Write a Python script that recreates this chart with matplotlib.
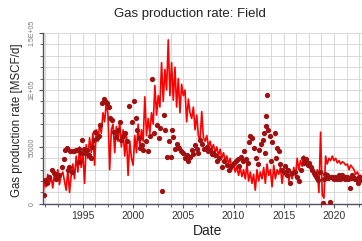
import numpy as np
import matplotlib
matplotlib.use("Agg")
import matplotlib.pyplot as plt
from matplotlib.ticker import MultipleLocator, FixedLocator

plt.rcParams['font.family'] = ['Liberation Sans', 'DejaVu Sans']

# simulated gas rate, one value every two months from 1991.0 (thousand MSCF/d)
sim_start = 1991.0
sim_rate_k = [
    5, 20, 15, 26, 18, 24,
    14, 27, 20, 30, 17, 25,
    28, 20, 12, 30, 10, 25,
    35, 22, 42, 28, 50, 32,
    45, 18, 52, 40, 58, 45,
    62, 34, 65, 55, 70, 62,
    80, 72, 90, 78, 30, 65,
    70, 45, 68, 55, 72, 50,
    65, 42, 60, 25, 55, 40,
    34, 60, 45, 70, 50, 65,
    55, 94, 60, 75, 62, 80,
    70, 104, 78, 95, 85, 124,
    90, 118, 100, 144, 95, 124,
    91, 120, 85, 110, 80, 105,
    95, 100, 72, 92, 80, 75,
    85, 65, 78, 60, 55, 81,
    58, 55, 60, 50, 55, 48,
    52, 45, 50, 42, 48, 40,
    45, 38, 42, 35, 40, 30,
    36, 28, 33, 25, 32, 24,
    30, 22, 35, 20, 28, 18,
    26, 12, 30, 20, 28, 22,
    32, 18, 35, 25, 30, 15,
    34, 22, 30, 26, 32, 18,
    30, 25, 33, 20, 28, 22,
    32, 24, 40, 30, 38, 33,
    42, 35, 40, 32, 36, 30,
    28, 22, 30, 10, 63, 8,
    5, 42, 35, 40, 38, 42,
    38, 40, 36, 38, 35, 37,
    36, 34, 35, 30, 34, 32,
    30, 26, 28, 24, 25,
]

# observed points (decimal year, thousand MSCF/d)
obs_year = [
    1991.1, 1991.2, 1991.4, 1991.6, 1991.9, 1992.1, 1992.3, 1992.4, 1992.6, 1992.9,
    1993.1, 1993.2, 1993.4, 1993.5, 1993.6, 1993.7, 1993.9, 1994.0, 1994.1, 1994.3,
    1994.4, 1994.6, 1994.6, 1994.8, 1994.9, 1995.1, 1995.2, 1995.4, 1995.6, 1995.8,
    1995.9, 1996.1, 1996.2, 1996.4, 1996.6, 1996.7, 1996.9, 1997.1, 1997.2, 1997.4,
    1997.6, 1997.7, 1997.9, 1998.1, 1998.3, 1998.5, 1998.7, 1998.8, 1999.0, 1999.2,
    1999.4, 1999.6, 1999.9, 2000.1, 2000.3, 2000.4, 2000.6, 2000.7, 2000.9, 2001.0,
    2001.3, 2001.5, 2001.7, 2001.9, 2002.1, 2002.4, 2002.6, 2002.7, 2002.9, 2003.1,
    2003.2, 2003.4, 2003.6, 2003.8, 2003.9, 2004.0, 2004.2, 2004.4, 2004.5, 2004.6,
    2004.8, 2005.0, 2005.2, 2005.4, 2005.5, 2005.7, 2005.9, 2006.0, 2006.2, 2006.4,
    2006.5, 2006.7, 2006.9, 2007.1, 2007.4, 2007.5, 2007.7, 2007.9, 2008.0, 2008.2,
    2008.4, 2008.6, 2008.9, 2009.1, 2009.3, 2009.5, 2009.7, 2010.0, 2010.2, 2010.4,
    2010.5, 2010.7, 2010.9, 2011.0, 2011.2, 2011.4, 2011.5, 2011.6, 2011.8, 2012.0,
    2012.2, 2012.4, 2012.5, 2012.7, 2012.9, 2013.0, 2013.1, 2013.2, 2013.2, 2013.3,
    2013.4, 2013.6, 2013.7, 2013.8, 2014.1, 2014.2, 2014.3, 2014.5, 2014.6, 2014.8,
    2015.0, 2015.1, 2015.3, 2015.4, 2015.6, 2015.8, 2016.1, 2016.3, 2016.5, 2016.7,
    2016.9, 2017.0, 2017.2, 2017.4, 2017.5, 2017.7, 2017.8, 2018.0, 2018.1, 2018.3,
    2018.4, 2018.6, 2018.9, 2019.0, 2019.1, 2019.3, 2019.6, 2019.7, 2019.9, 2020.1,
    2020.3, 2020.5, 2020.7, 2020.9, 2021.1, 2021.3, 2021.6, 2021.7, 2021.9, 2022.1,
    2022.4, 2022.6, 2022.8, 2019.4, 2019.8, 2020.0, 2020.2, 2020.4, 2020.6, 2020.8,
    2021.0, 2021.2, 2021.4, 2021.8, 2022.0, 2022.2, 2022.5, 2022.7,
]
obs_rate_k = [
    8, 21, 18, 24, 30, 27, 22, 24, 25, 32,
    39, 47, 49, 30, 32, 46, 28, 46, 46, 47,
    47, 48, 37, 45, 56, 48, 45, 47, 43, 40,
    50, 56, 63, 58, 60, 69, 89, 92, 90, 89,
    85, 75, 74, 63, 59, 65, 72, 56, 60, 62,
    55, 86, 72, 90, 75, 65, 58, 49, 52, 47,
    55, 46, 60, 110, 62, 69, 58, 67, 11, 78,
    65, 41, 55, 41, 65, 59, 48, 53, 50, 49,
    46, 45, 40, 43, 38, 41, 47, 44, 52, 48,
    45, 56, 53, 48, 50, 46, 47, 44, 45, 43,
    38, 40, 32, 38, 34, 30, 33, 36, 38, 39,
    33, 41, 38, 46, 39, 36, 54, 60, 58, 49,
    40, 35, 47, 53, 56, 62, 45, 77, 68, 96,
    65, 60, 38, 54, 62, 40, 49, 46, 35, 30,
    28, 33, 25, 30, 18, 27, 28, 24, 20, 30,
    40, 36, 39, 34, 36, 32, 30, 27, 25, 23,
    21, 28, 0.5, 22, 26, 25, 2, 24, 23, 24,
    22, 25, 23, 24, 22, 24, 14, 23, 24, 22,
    18, 23, 21, 23, 24, 22, 23, 24, 22, 25,
    23, 24, 22, 25, 23, 22, 24, 22,
]

sim_year = sim_start + np.arange(len(sim_rate_k)) / 6.0
sim_rate = np.array(sim_rate_k) * 1000.0
obs_rate = np.array(obs_rate_k) * 1000.0

fig = plt.figure(figsize=(3.62, 2.41), dpi=100)
ax = fig.add_axes([0.118, 0.154, 0.91, 0.709])

ax.plot(sim_year, sim_rate, color='#ff0000', lw=1.2, zorder=3)
ax.plot(obs_year, obs_rate, 'o', color='#a01010', ms=3.8, mec='none', zorder=4)

ax.set_xlim(1991.0, 2023.8)
ax.set_ylim(0, 150000)

ax.xaxis.set_major_locator(FixedLocator([1995, 2000, 2005, 2010, 2015, 2020]))
ax.xaxis.set_minor_locator(MultipleLocator(1.25))
ax.yaxis.set_major_locator(FixedLocator([0, 50000, 100000, 150000]))
ax.yaxis.set_minor_locator(MultipleLocator(10000))
ax.set_yticklabels(['0', '50000', '1E+05', '1.5E+05'], rotation=90, va='center')

ax.grid(which='both', color='#d8d8d8', lw=0.7, zorder=0)
ax.set_axisbelow(True)
for s in ['top', 'right']:
    ax.spines[s].set_visible(False)
for s in ['left', 'bottom']:
    ax.spines[s].set_color('#505060')
    ax.spines[s].set_linewidth(1.0)

ax.tick_params(axis='x', which='major', labelsize=7.5, labelcolor='#333333',
               length=3, color='#505060', pad=2)
ax.tick_params(axis='x', which='minor', length=2, color='#505060')
ax.tick_params(axis='y', which='major', labelsize=5, labelcolor='#777777',
               length=3, color='#505060', pad=2)
ax.tick_params(axis='y', which='minor', length=2, color='#505060')

ax.set_xlabel('Date', fontsize=10, color='#222222', labelpad=2)
fig.text(0.048, 0.5, 'Gas production rate [MSCF/d]', rotation=90,
         fontsize=8.3, color='#222222', ha='center', va='center')
fig.text(0.525, 0.94, 'Gas production rate: Field', fontsize=9.5,
         color='#222222', ha='center', va='center')

fig.savefig('out.png', dpi=100)
